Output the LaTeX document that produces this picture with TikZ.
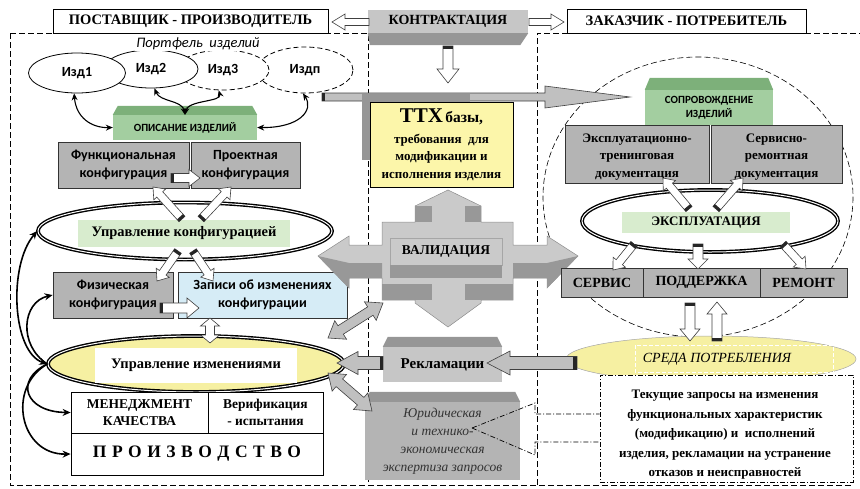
\documentclass[tikz,border=0pt]{standalone}
\usepackage{fontspec}
\setmainfont{Liberation Serif}
\newfontfamily\calfont{Carlito}
\usetikzlibrary{calc,arrows.meta,shapes.geometric}
\definecolor{boxgray}{RGB}{180,180,180}
\definecolor{facegray}{RGB}{198,198,198}
\definecolor{bevgray}{RGB}{150,150,150}
\definecolor{arrgray}{RGB}{192,192,192}
\definecolor{crosslt}{RGB}{202,202,202}
\definecolor{crossdk}{RGB}{152,152,152}
\definecolor{grnface}{RGB}{163,206,160}
\definecolor{grnbev}{RGB}{125,176,122}
\definecolor{lgreen}{RGB}{216,236,206}
\definecolor{lblue}{RGB}{214,236,246}
\definecolor{yelbox}{RGB}{252,246,170}
\definecolor{yelell}{RGB}{246,240,162}

% block arrow: #1 fill, #2 from, #3 to, #4 half shaft, #5 half head, #6 head length, #7 tail bar length
\newcommand\barrow[7]{%
  \path (#2); \pgfgetlastxy{\bax}{\bay}%
  \path (#3); \pgfgetlastxy{\bbx}{\bby}%
  \pgfmathsetmacro\baang{atan2((\bby)-(\bay),(\bbx)-(\bax))}%
  \pgfmathsetmacro\balen{veclen((\bbx)-(\bax),(\bby)-(\bay))}%
  \begin{scope}[shift={(\bax,\bay)},rotate=\baang]
    \filldraw[fill=#1,draw=black!75,line width=0.6pt,line join=miter]
      (0,-#4) -- (\balen-#6,-#4) -- (\balen-#6,-#5) -- (\balen,0)
      -- (\balen-#6,#5) -- (\balen-#6,#4) -- (0,#4) -- cycle;
    \ifdim #7pt>0pt \fill[black!85] (0,-#4) rectangle (#7,#4);\fi
  \end{scope}}
% double-headed block arrow: #1 fill, #2 from, #3 to, #4 half shaft, #5 half head, #6 head length
\newcommand\dbarrow[6]{%
  \path (#2); \pgfgetlastxy{\bax}{\bay}%
  \path (#3); \pgfgetlastxy{\bbx}{\bby}%
  \pgfmathsetmacro\baang{atan2((\bby)-(\bay),(\bbx)-(\bax))}%
  \pgfmathsetmacro\balen{veclen((\bbx)-(\bax),(\bby)-(\bay))}%
  \begin{scope}[shift={(\bax,\bay)},rotate=\baang]
    \filldraw[fill=#1,draw=black!75,line width=0.6pt,line join=miter]
      (0,0) -- (#6,-#5) -- (#6,-#4) -- (\balen-#6,-#4) -- (\balen-#6,-#5) -- (\balen,0)
      -- (\balen-#6,#5) -- (\balen-#6,#4) -- (#6,#4) -- (#6,#5) -- cycle;
  \end{scope}}
\newcommand\lsp{\hspace{5.5pt}}

\begin{document}
\begin{tikzpicture}[x=1pt,y=-1pt,
  regline/.style={dash pattern=on 6pt off 3pt, line width=0.7pt},
  dashdot/.style={dash pattern=on 5pt off 2pt on 1pt off 2pt, line width=0.7pt},
  hdr/.style={draw, fill=white, line width=0.8pt, inner sep=0pt, font=\bfseries\fontsize{14.5}{16}\selectfont},
  izd/.style={ellipse, draw, fill=white, line width=0.8pt, inner sep=0pt, font=\calfont\bfseries\fontsize{14}{15}\selectfont},
  gbox/.style={draw=black!80, fill=boxgray, line width=0.8pt, inner sep=0pt, align=center},
  sanslab/.style={font=\calfont\bfseries\fontsize{14}{18}\selectfont},
  serlab/.style={font=\bfseries\fontsize{13}{17.5}\selectfont},
  dblell/.style={ellipse, draw, double=white, double distance=1pt, line width=1.4pt, inner sep=0pt},
  tbl/.style={draw, fill=white, line width=0.8pt, inner sep=0pt, align=center},
  curv/.style={line width=1.1pt, {Stealth[length=7pt,width=6pt]}-{Stealth[length=7pt,width=6pt]}},
  curvR/.style={line width=1.1pt, -{Stealth[length=7pt,width=6pt]}},
  lcurv/.style={line width=1.6pt, {Stealth[length=8pt,width=7pt]}-{Stealth[length=8pt,width=7pt]}},
  lcurvR/.style={line width=1.6pt, -{Stealth[length=8pt,width=7pt]}}]
\useasboundingbox (0,0) rectangle (860,488);

% ---------- regions ----------
\draw[regline] (10,33) -- (10,485) -- (853,485);
\draw[regline] (10,33) -- (368,33) -- (368,485);
\draw[regline] (537,485) -- (537,33) -- (860,33);
\draw[regline, line width=0.6pt] (698,197) ellipse [x radius=155, y radius=140];

% ---------- headers ----------
\node[hdr, minimum width=275pt, minimum height=24pt] (sup) at (190.5,21) {ПОСТАВЩИК - ПРОИЗВОДИТЕЛЬ};
\node[hdr, minimum width=239pt, minimum height=24pt] (cus) at (686.5,21) {ЗАКАЗЧИК - ПОТРЕБИТЕЛЬ};
\node[fill=facegray, minimum width=160pt, minimum height=23pt, inner sep=0pt, font=\bfseries\fontsize{14}{16}\selectfont] (con) at (448,21.5) {КОНТРАКТАЦИЯ};
\fill[bevgray] (con.south west) -- (con.south east) -- ++(-8,12) -- ($(con.south west)+(2,12)$) -- cycle;
\coordinate (ha1) at (369,22); \coordinate (ha2) at (332,22);
\coordinate (hb1) at (529,22); \coordinate (hb2) at (564,22);
\barrow{white}{ha1}{ha2}{3.5}{8}{13}{0}
\barrow{white}{hb1}{hb2}{3.5}{8}{13}{0}

% ---------- portfolio ----------
\node[izd, dashed, dash pattern=on 5pt off 3pt, minimum width=96pt, minimum height=46pt] (izn) at (305,70) {Издп};
\node[izd, dashed, dash pattern=on 5pt off 3pt, minimum width=92pt, minimum height=40pt] (iz3) at (223,70) {Изд3};
\node[izd, minimum width=94pt, minimum height=38pt] (iz2) at (151,69) {Изд2};
\node[izd, minimum width=97pt, minimum height=40pt] (iz1) at (77,73) {Изд1};
\node[fill=white, inner sep=1pt, font=\calfont\itshape\fontsize{14.5}{16}\selectfont] (port) at (198,44) {Портфель\ \ изделий};

\node[fill=grnface, minimum width=144pt, minimum height=25pt, inner sep=0pt, font=\calfont\bfseries\fontsize{11}{13}\selectfont] (opis) at (185,127.5) {ОПИСАНИЕ ИЗДЕЛИЙ};
\fill[grnbev] (opis.north west) -- ++(5,-9) -- ($(opis.north east)+(-5,-9)$) -- (opis.north east) -- cycle;

\draw[curv] (iz1.262) .. controls (76,118) and (92,128) .. (opis.west);
\draw[curv] (iz2.280) .. controls (160,102) and (182,100) .. (opis.north);
\draw[curv] (iz3.258) .. controls (222,102) and (188,100) .. (opis.north);
\draw[curv] (izn.265) .. controls (314,110) and (300,128) .. (opis.east);

% ---------- configuration ----------
\node[gbox, sanslab, minimum width=131pt, minimum height=46pt] (func) at (123.5,165) {Функциональная\\конфигурация};
\node[gbox, sanslab, minimum width=109pt, minimum height=46pt] (proj) at (245.5,165) {Проектная\\конфигурация};
\coordinate (fp1) at (171,178); \coordinate (fp2) at (200,178);
\barrow{white}{fp1}{fp2}{4.5}{8.5}{11}{3}

\node[dblell, fill=white, minimum width=294pt, minimum height=57pt] (uk) at (185,231) {};
\node[fill=lgreen, minimum width=212pt, minimum height=27pt, inner sep=0pt, font=\bfseries\fontsize{14.5}{16}\selectfont] (ukl) at (184,233) {Управление конфигурацией};

\node[gbox, sanslab, minimum width=120pt, minimum height=46pt] (fiz) at (113,295) {Физическая\\конфигурация};
\node[draw=black!80, fill=lblue, line width=0.8pt, inner sep=0pt, align=center, sanslab, minimum width=169pt, minimum height=46pt] (zap) at (262.5,295) {Записи об изменениях\\конфигурации};

\coordinate (u1a) at (182,219); \coordinate (u1b) at (153,187);
\coordinate (u2a) at (201,219); \coordinate (u2b) at (231,187);
\coordinate (u3a) at (178,251); \coordinate (u3b) at (157,281);
\coordinate (u4a) at (193,251); \coordinate (u4b) at (213,281);
\barrow{white}{u1a}{u1b}{4}{8}{10}{3}
\barrow{white}{u2a}{u2b}{4}{8}{10}{3}
\barrow{white}{u3a}{u3b}{4}{8}{10}{3}
\barrow{white}{u4a}{u4b}{4}{8}{10}{3}
\coordinate (fz1) at (160,308); \coordinate (fz2) at (199,308);
\barrow{white}{fz1}{fz2}{5}{10}{12}{3}

\node[dblell, fill=yelell, minimum width=296pt, minimum height=56pt] (ui) at (196,364) {};
\node[fill=white, minimum width=202pt, minimum height=35pt, inner sep=0pt, font=\bfseries\fontsize{14.5}{16}\selectfont] (uil) at (196,365) {Управление изменениями};
\coordinate (zu1) at (210,318); \coordinate (zu2) at (210,343);
\dbarrow{white}{zu1}{zu2}{4.5}{9.5}{8}

\node[tbl, font=\bfseries\fontsize{13.5}{17}\selectfont, minimum width=137pt, minimum height=41pt] (mk) at (139.5,412.5) {МЕНЕДЖМЕНТ\\КАЧЕСТВА};
\node[tbl, font=\bfseries\fontsize{13.5}{17}\selectfont, minimum width=115pt, minimum height=41pt] (ver) at (265.5,412.5) {Верификация\\- испытания};
\node[tbl, font=\bfseries\fontsize{17.5}{20}\selectfont, minimum width=252pt, minimum height=42pt] (prod) at (197,454) {П\lsp Р\lsp О\lsp И\lsp З\lsp В\lsp О\lsp Д\lsp С\lsp Т\lsp В\lsp О};

\draw[lcurv] (uk.west) .. controls (8,265) and (12,352) .. (ui.west);
\draw[lcurvR] (ui.west) .. controls (18,345) and (22,302) .. (fiz.west);
\draw[lcurvR] (ui.west) .. controls (14,380) and (25,412) .. (mk.west);
\draw[lcurvR] (ui.west) .. controls (6,388) and (20,455) .. (prod.west);

% ---------- middle ----------
\coordinate (cd1) at (448,46); \coordinate (cd2) at (448,83);
\barrow{white}{cd1}{cd2}{5}{11}{14}{3}
\coordinate (lg1) at (322,97); \coordinate (lg2) at (630,97);
\barrow{arrgray}{lg1}{lg2}{4}{11}{85}{3}
\fill[bevgray] (362,94) rectangle (470,160);
\node[draw, fill=yelbox, line width=0.8pt, minimum width=143pt, minimum height=85pt, align=center, inner sep=0pt, serlab] (ttx) at (441.5,144.5)
  {{\fontsize{21}{21}\selectfont ТТХ}\,{\fontsize{15.5}{21}\selectfont базы,}\\[4pt]требования\ \ для\\модификации и\\исполнения изделия};

% validation cross
\filldraw[fill=crosslt, draw=black!45, line width=0.5pt]
  (448,190) -- (481,206) -- (481,222) -- (513,222) -- (513,245) -- (547,245) -- (547,236) -- (578,256)
  -- (547,288) -- (547,278) -- (513,278) -- (513,300) -- (481,300) -- (481,303) -- (448,327) -- (415,303)
  -- (415,300) -- (382,300) -- (382,278) -- (349,278) -- (349,288) -- (318,256) -- (349,236) -- (349,245)
  -- (382,245) -- (382,222) -- (415,222) -- (415,206) -- cycle;
\fill[crossdk] (415,206) rectangle (432,222);
\fill[crossdk] (465,206) rectangle (481,222);
\fill[crossdk] (318,256) -- (349,263) -- (382,263) -- (382,278) -- (349,278) -- (349,288) -- cycle;
\fill[crossdk] (578,256) -- (547,263) -- (513,263) -- (513,278) -- (547,278) -- (547,288) -- cycle;
\fill[crossdk] (382,284) rectangle (432,300);
\fill[crossdk] (465,284) rectangle (513,300);
\node[fill=crosslt, draw=black!35, line width=0.4pt, minimum width=112pt, minimum height=27pt, inner sep=0pt, font=\bfseries\fontsize{13.5}{16}\selectfont] (val) at (446,251.5) {ВАЛИДАЦИЯ};
\fill[crossdk] (val.south west) -- (val.south east) -- ++(0,13) -- ($(val.south west)+(0,13)$) -- cycle;

\node[fill=facegray, minimum width=119pt, minimum height=35pt, inner sep=0pt, font=\bfseries\fontsize{15}{17}\selectfont] (rek) at (442.5,364.5) {Рекламации};
\fill[bevgray] (rek.north west) -- ++(5,-10) -- ($(rek.north east)+(-5,-10)$) -- (rek.north east) -- cycle;
\node[fill=boxgray, minimum width=155pt, minimum height=78pt, inner sep=0pt, align=center, text=black!80, font=\itshape\fontsize{13.5}{18}\selectfont] (yur) at (442.5,441) {Юридическая\\и технико-\\экономическая\\экспертиза запросов};
\fill[bevgray] (yur.north west) -- ++(5,-10) -- ($(yur.north east)+(-5,-10)$) -- (yur.north east) -- cycle;

\coordinate (rk1) at (383,363); \coordinate (rk2) at (337,363);
\barrow{arrgray}{rk1}{rk2}{6.5}{11.5}{21}{3}
\coordinate (cv1) at (328,338); \coordinate (cv2) at (383,303);
\dbarrow{arrgray}{cv1}{cv2}{5}{11}{15}
\coordinate (cy1) at (328,373); \coordinate (cy2) at (372,411);
\dbarrow{arrgray}{cy1}{cy2}{5}{11}{15}

% ---------- right ----------
\node[fill=grnface, minimum width=128pt, minimum height=35pt, inner sep=0pt, align=center, font=\calfont\bfseries\fontsize{11}{14}\selectfont] (sop) at (709,107.5) {СОПРОВОЖДЕНИЕ\\ИЗДЕЛИЙ};
\fill[grnbev] (sop.north west) -- ++(5,-12) -- ($(sop.north east)+(-5,-12)$) -- (sop.north east) -- cycle;
\node[gbox, serlab, minimum width=144pt, minimum height=58pt] (etd) at (637,154) {};
\node[gbox, serlab, minimum width=131pt, minimum height=58pt] (srd) at (776.5,154) {};
\node[serlab, align=center, inner sep=0pt] (etdt) at (637,157) {Эксплуатационно-\\тренинговая\\документация};
\node[serlab, align=center, inner sep=0pt] (srdt) at (776.5,157) {Сервисно-\\ремонтная\\документация};

\node[dblell, fill=white, minimum width=256pt, minimum height=62pt] (eks) at (710,221) {};
\node[fill=lgreen, minimum width=168pt, minimum height=21pt, inner sep=0pt, font=\bfseries\fontsize{13}{15}\selectfont] (eksl) at (706,222.5) {ЭКСПЛУАТАЦИЯ};

\node[gbox, font=\bfseries\fontsize{14}{16}\selectfont, minimum width=82pt, minimum height=29pt] (serv) at (602,282.5) {СЕРВИС};
\node[gbox, font=\bfseries\fontsize{14}{16}\selectfont, minimum width=117pt, minimum height=29pt] (podd) at (701.5,282.5) {ПОДДЕРЖКА};
\node[gbox, font=\bfseries\fontsize{14}{16}\selectfont, minimum width=87pt, minimum height=29pt] (rem) at (803.5,282.5) {РЕМОНТ};

\coordinate (e1a) at (689,209); \coordinate (e1b) at (663,178);
\coordinate (e2a) at (716,209); \coordinate (e2b) at (743,178);
\coordinate (e3a) at (634,244); \coordinate (e3b) at (613,270);
\coordinate (e4a) at (698,244); \coordinate (e4b) at (698,269);
\coordinate (e5a) at (783,244); \coordinate (e5b) at (806,269);
\barrow{white}{e1a}{e1b}{4}{8}{10}{3}
\barrow{white}{e2a}{e2b}{4}{8}{10}{3}
\barrow{white}{e3a}{e3b}{4}{8}{10}{3}
\barrow{white}{e4a}{e4b}{5}{10}{10}{3}
\barrow{white}{e5a}{e5b}{4}{8}{10}{3}

\node[ellipse, fill=yelell, draw=black!35, line width=0.5pt, minimum width=290pt, minimum height=46pt, inner sep=0pt] (sr) at (711,359) {};
\draw[white, line width=0.6pt, dash pattern=on 4pt off 2pt] (635,345) rectangle (833,372);
\node[font=\itshape\fontsize{14}{16}\selectfont, inner sep=0pt] (srl) at (717,359) {СРЕДА ПОТРЕБЛЕНИЯ};

\coordinate (s1a) at (690,303); \coordinate (s1b) at (690,341);
\coordinate (s2a) at (717,341); \coordinate (s2b) at (717,302);
\barrow{white}{s1a}{s1b}{5}{10}{12}{3}
\barrow{white}{s2a}{s2b}{5}{10}{12}{3}

\coordinate (sr1) at (577,363); \coordinate (sr2) at (487,363);
\barrow{arrgray}{sr1}{sr2}{6.5}{12}{23}{4}

\node[draw, dashdot, fill=white, minimum width=253pt, minimum height=107pt, inner sep=0pt] (tek) at (726.5,428.5) {};
\node[align=center, inner sep=0pt, font=\bfseries\fontsize{13}{19.5}\selectfont] (tekt) at (725,435)
  {Текущие запросы на изменения\\функциональных характеристик\\(модификацию) и\ \ исполнений\\изделия, рекламации на устранение\\отказов и неисправностей};

\coordinate (yap) at (472,428);
\coordinate (yt1) at (535,403); \coordinate (yt2) at (535,414);
\coordinate (yb1) at (535,455); \coordinate (yb2) at (535,442);
\draw[dashdot] (yap) -- (yt1) -- (yt2) -- (yt2 -| tek.west);
\draw[dashdot] (yap) -- (yb1) -- (yb2) -- (yb2 -| tek.west);
\end{tikzpicture}
\end{document}
